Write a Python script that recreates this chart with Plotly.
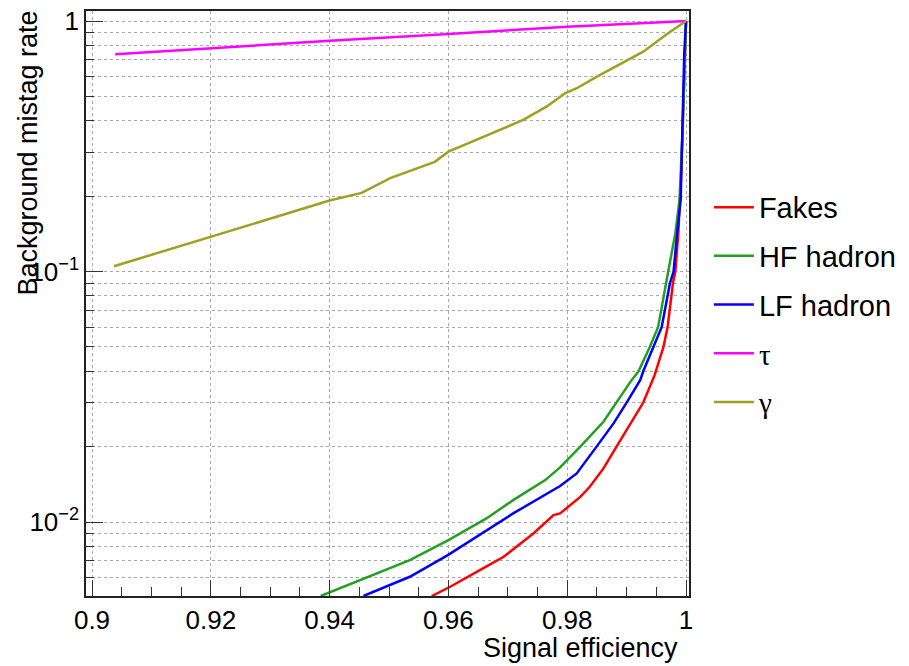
import plotly.graph_objects as go

# ---- data ----
fakes_x = [0.9572, 0.9603, 0.9653, 0.9693, 0.9743, 0.9777, 0.9788, 0.9805, 0.9822, 0.9838, 0.9861,
           0.9883, 0.9928, 0.9947, 0.9962, 0.9969, 0.9978, 0.9982, 0.9987, 0.9992, 0.9997, 1.0]
fakes_y = [0.00507, 0.00552, 0.00643, 0.00727, 0.00901, 0.01066, 0.01083, 0.0117, 0.0126, 0.01384, 0.01638,
           0.0200, 0.0300, 0.0385, 0.0500, 0.0600, 0.0900, 0.100, 0.142, 0.25, 0.6, 1.0]

hf_x = [0.9385, 0.9451, 0.9535, 0.9600, 0.9664, 0.9709, 0.9763, 0.9788, 0.9822, 0.9861, 0.9883,
        0.9906, 0.9920, 0.9939, 0.9953, 0.9966, 0.9970, 0.9982, 0.9989, 0.9994, 0.99975, 1.0]
hf_y = [0.00507, 0.00587, 0.00705, 0.00848, 0.01034, 0.01224, 0.01471, 0.01653, 0.0200, 0.02514, 0.0300,
        0.0362, 0.0400, 0.0500, 0.0600, 0.0900, 0.100, 0.142, 0.193, 0.35, 0.70, 1.0]

lf_x = [0.9457, 0.9535, 0.9599, 0.9656, 0.9709, 0.9788, 0.9816, 0.9850, 0.9878, 0.9900, 0.9923,
        0.9928, 0.9945, 0.9959, 0.9973, 0.9979, 0.9985, 0.9991, 0.9993, 0.9997, 1.0]
lf_y = [0.00507, 0.00605, 0.00738, 0.00901, 0.01083, 0.01393, 0.01564, 0.0201, 0.02477, 0.0300, 0.0369,
        0.0400, 0.0500, 0.0600, 0.0900, 0.100, 0.142, 0.193, 0.305, 0.743, 1.0]

tau_x = [0.9039, 0.92, 0.94, 0.96, 0.98, 0.995, 1.0]
tau_y = [0.736, 0.778, 0.834, 0.887, 0.949, 0.987, 1.0]

gamma_x = [0.9037, 0.92, 0.94, 0.9454, 0.9485, 0.9502, 0.9577, 0.96, 0.9726, 0.9765, 0.9796,
           0.9816, 0.9850, 0.9928, 0.9968, 0.9996, 1.0]
gamma_y = [0.105, 0.138, 0.192, 0.206, 0.225, 0.236, 0.274, 0.301, 0.403, 0.455, 0.514,
           0.539, 0.600, 0.754, 0.887, 0.979, 1.0]

series_names = ["Fakes", "HF hadron", "LF hadron",
                "<span style=\"font-family:'Liberation Serif'\">τ</span>",
                "<span style=\"font-family:'Liberation Serif'\">γ</span>"]
series_colors = ["#ff0000", "#22a022", "#0000ff", "#ff00ff", "#a0a020"]

x_tickvals = [0.9, 0.92, 0.94, 0.96, 0.98, 1.0]
x_ticktext = ["0.9", "0.92", "0.94", "0.96", "0.98", "1"]
y_tickvals = [0.01, 0.1, 1]
y_ticktext = ["10<sup>−2</sup>", "10<sup>−1</sup>", "1"]

xs = [fakes_x, hf_x, lf_x, tau_x, gamma_x]
ys = [fakes_y, hf_y, lf_y, tau_y, gamma_y]

FONT = "Liberation Sans, Arial, Helvetica, sans-serif"

fig = go.Figure()
for i, (x, y) in enumerate(zip(xs, ys)):
    fig.add_trace(go.Scatter(x=x, y=y, mode="lines", name=series_names[i],
                             legendgroup=f"g{i}",
                             line=dict(color=series_colors[i], width=2.5)))

grid_col = "#a8a8a8"
fig.update_layout(
    width=909, height=666,
    margin=dict(l=86, r=220, t=11, b=70, autoexpand=False),
    paper_bgcolor="white", plot_bgcolor="white",
    font=dict(family=FONT, size=26, color="black"),
    showlegend=True,
    legend=dict(x=1.033, y=0.708, xanchor="left", yanchor="top",
                font=dict(family=FONT, size=29, color="black"),
                tracegroupgap=8, bgcolor="rgba(0,0,0,0)", itemwidth=40),
    xaxis=dict(
        range=[0.89899, 1.0005], tickvals=x_tickvals, ticktext=x_ticktext,
        ticks="inside", ticklen=16, tickwidth=1.2, tickcolor="#333",
        showline=True, mirror=True, linecolor="#222", linewidth=1.5,
        showgrid=True, gridcolor=grid_col, griddash="dot", gridwidth=1,
        zeroline=False, tickfont=dict(size=26),
        minor=dict(dtick=0.005, tick0=0.9, ticks="inside", ticklen=9, tickwidth=1.2,
                   tickcolor="#333", showgrid=False),
    ),
    yaxis=dict(
        type="log", range=[-2.295, 0.0399], tickvals=y_tickvals, ticktext=y_ticktext,
        ticks="inside", ticklen=17, tickwidth=1.2, tickcolor="#333",
        showline=True, mirror=True, linecolor="#222", linewidth=1.5,
        showgrid=True, gridcolor=grid_col, griddash="dot", gridwidth=1,
        zeroline=False, tickfont=dict(size=26),
        minor=dict(dtick="D1", ticks="inside", ticklen=8, tickwidth=1.2, tickcolor="#333",
                   showgrid=True, gridcolor=grid_col, griddash="dot", gridwidth=1),
    ),
    annotations=[
        dict(text="Background mistag rate", xref="paper", yref="paper",
             x=-0.0962, y=1.005, xanchor="center", yanchor="top", textangle=-90,
             showarrow=False, font=dict(family=FONT, size=27)),
        dict(text="Signal efficiency", xref="paper", yref="paper",
             x=0.985, y=-0.089, xanchor="right", yanchor="middle",
             showarrow=False, font=dict(family=FONT, size=27)),
    ],
)

fig.write_html("out.html")
